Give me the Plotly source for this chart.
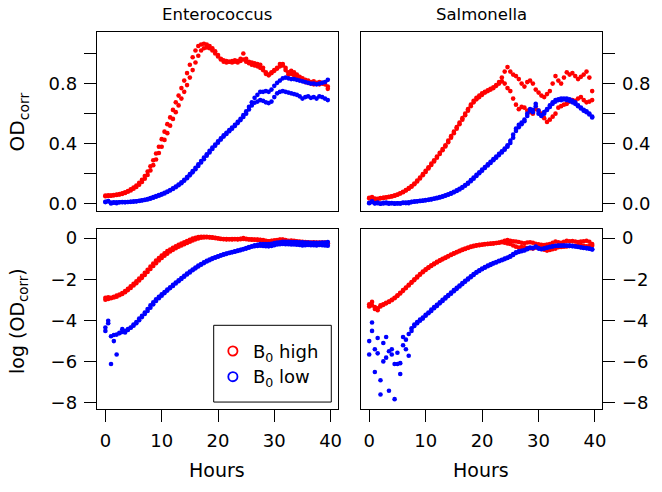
import numpy as np
import plotly.graph_objects as go

# ---- data (OD_corr, sampled every 0.5 h from 0 to 39.5 h) ----
hours = [i * 0.5 for i in range(80)]

ent_high_a = [0.055, 0.056, 0.054, 0.058, 0.061, 0.064, 0.069, 0.076, 0.085, 0.096,
              0.108, 0.122, 0.140, 0.160, 0.185, 0.215, 0.25, 0.29, 0.335, 0.38,
              0.43, 0.48, 0.53, 0.575, 0.625, 0.675, 0.72, 0.77, 0.82, 0.87,
              0.925, 0.975, 1.02, 1.05, 1.06, 1.065, 1.06, 1.05, 1.035, 1.015,
              0.99, 0.965, 0.955, 0.95, 0.945, 0.95, 0.955, 0.95, 0.965, 1.0,
              0.965, 0.945, 0.94, 0.935, 0.93, 0.925, 0.905, 0.875, 0.855, 0.87,
              0.885, 0.9, 0.915, 0.93, 0.905, 0.875, 0.885, 0.875, 0.86, 0.845,
              0.835, 0.825, 0.82, 0.81, 0.815, 0.805, 0.81, 0.805, 0.795, 0.765]
ent_high_b = [0.050, 0.052, 0.055, 0.056, 0.058, 0.062, 0.066, 0.072, 0.080, 0.089,
              0.100, 0.112, 0.127, 0.145, 0.167, 0.192, 0.222, 0.257, 0.295, 0.338,
              0.38, 0.425, 0.47, 0.52, 0.565, 0.61, 0.655, 0.70, 0.745, 0.79,
              0.84, 0.89, 0.94, 0.985, 1.02, 1.035, 1.04, 1.035, 1.02, 1.0,
              0.98, 0.96, 0.945, 0.94, 0.945, 0.94, 0.945, 0.94, 0.95, 0.96,
              0.945, 0.935, 0.925, 0.92, 0.915, 0.905, 0.89, 0.865, 0.86, 0.875,
              0.89, 0.905, 0.93, 0.92, 0.89, 0.86, 0.865, 0.855, 0.84, 0.83,
              0.82, 0.81, 0.805, 0.8, 0.795, 0.8, 0.795, 0.8, 0.805, 0.78]
ent_low_a = [0.013, 0.018, 0.0022, 0.009, 0.0035, 0.010, 0.012, 0.011, 0.012, 0.013,
             0.015, 0.017, 0.020, 0.023, 0.027, 0.032, 0.038, 0.044, 0.051, 0.058,
             0.065, 0.073, 0.082, 0.092, 0.103, 0.115, 0.128, 0.143, 0.16, 0.178,
             0.197, 0.217, 0.24, 0.262, 0.285, 0.307, 0.33, 0.352, 0.375, 0.395,
             0.415, 0.435, 0.455, 0.472, 0.49, 0.507, 0.525, 0.545, 0.565, 0.59,
             0.615, 0.645, 0.675, 0.705, 0.725, 0.745, 0.745, 0.75, 0.745, 0.76,
             0.785, 0.805, 0.82, 0.835, 0.84, 0.835, 0.83, 0.83, 0.825, 0.82,
             0.815, 0.81, 0.805, 0.80, 0.80, 0.795, 0.80, 0.805, 0.81, 0.825]
ent_low_b = [0.011, 0.016, 0.0085, 0.0067, 0.0092, 0.0098, 0.0105, 0.0102, 0.0115, 0.0128,
             0.0142, 0.016, 0.0185, 0.0215, 0.025, 0.029, 0.034, 0.040, 0.047, 0.054,
             0.061, 0.069, 0.078, 0.088, 0.098, 0.11, 0.123, 0.137, 0.153, 0.17,
             0.189, 0.209, 0.23, 0.252, 0.275, 0.297, 0.32, 0.342, 0.365, 0.386,
             0.406, 0.427, 0.447, 0.465, 0.483, 0.50, 0.518, 0.537, 0.557, 0.578,
             0.60, 0.628, 0.655, 0.672, 0.68, 0.69, 0.685, 0.675, 0.67, 0.68,
             0.71, 0.735, 0.745, 0.75, 0.745, 0.74, 0.735, 0.73, 0.725, 0.715,
             0.70, 0.71, 0.715, 0.705, 0.71, 0.70, 0.715, 0.71, 0.70, 0.69]
sal_high_a = [0.036, 0.045, 0.035, 0.030, 0.038, 0.040, 0.043, 0.046, 0.050, 0.055,
              0.062, 0.070, 0.080, 0.091, 0.104, 0.118, 0.135, 0.155, 0.175, 0.197,
              0.22, 0.243, 0.267, 0.29, 0.315, 0.34, 0.365, 0.39, 0.42, 0.45,
              0.48, 0.51, 0.54, 0.57, 0.60, 0.63, 0.66, 0.685, 0.705, 0.72,
              0.735, 0.745, 0.755, 0.765, 0.775, 0.79, 0.81, 0.84, 0.88, 0.91,
              0.88, 0.86, 0.85, 0.83, 0.80, 0.78, 0.81, 0.82, 0.80, 0.76,
              0.74, 0.72, 0.71, 0.73, 0.75, 0.80, 0.85, 0.82, 0.80, 0.84,
              0.875, 0.86, 0.87, 0.85, 0.83, 0.845, 0.86, 0.88, 0.84, 0.75]
sal_high_b = [0.040, 0.038, 0.032, 0.033, 0.036, 0.039, 0.042, 0.045, 0.049, 0.054,
              0.060, 0.068, 0.077, 0.088, 0.10, 0.114, 0.13, 0.148, 0.168, 0.19,
              0.212, 0.235, 0.258, 0.282, 0.306, 0.331, 0.356, 0.382, 0.41, 0.44,
              0.47, 0.50, 0.53, 0.56, 0.59, 0.62, 0.65, 0.675, 0.695, 0.71,
              0.725, 0.74, 0.75, 0.76, 0.77, 0.785, 0.80, 0.815, 0.80, 0.77,
              0.75, 0.70, 0.66, 0.63, 0.645, 0.64, 0.62, 0.61, 0.60, 0.63,
              0.62, 0.60, 0.57, 0.545, 0.56, 0.58, 0.60, 0.64, 0.65, 0.66,
              0.665, 0.68, 0.69, 0.685, 0.70, 0.71, 0.69, 0.675, 0.68, 0.69]
sal_low_a = [0.0035, 0.0166, 0.0045, 0.0037, 0.001, 0.0025, 0.003, 0.0006, 0.0035, 0.0022,
             0.0038, 0.00136, 0.0082, 0.0045, 0.0033, 0.011, 0.015, 0.017, 0.019, 0.021,
             0.024, 0.027, 0.031, 0.035, 0.039, 0.044, 0.050, 0.056, 0.063, 0.071,
             0.080, 0.089, 0.10, 0.112, 0.125, 0.14, 0.157, 0.175, 0.192, 0.21,
             0.228, 0.245, 0.262, 0.28, 0.297, 0.314, 0.332, 0.35, 0.368, 0.39,
             0.42, 0.46, 0.50, 0.525, 0.54, 0.56, 0.60, 0.63, 0.625, 0.665,
             0.62, 0.59, 0.61, 0.63, 0.655, 0.675, 0.69, 0.695, 0.70, 0.70,
             0.70, 0.695, 0.685, 0.675, 0.655, 0.64, 0.625, 0.615, 0.60, 0.58]
sal_low_b = [0.0067, 0.011, 0.0015, 0.0078, 0.0005, 0.0061, 0.0082, 0.0041, 0.0045, 0.0004,
             0.0022, 0.0023, 0.0055, 0.0072, 0.0095, 0.0125, 0.014, 0.016, 0.018, 0.020,
             0.023, 0.026, 0.029, 0.033, 0.037, 0.042, 0.047, 0.053, 0.06, 0.067,
             0.076, 0.085, 0.095, 0.107, 0.12, 0.134, 0.15, 0.167, 0.185, 0.203,
             0.22, 0.238, 0.255, 0.272, 0.29, 0.306, 0.324, 0.342, 0.36, 0.38,
             0.405, 0.44, 0.485, 0.51, 0.53, 0.55, 0.585, 0.62, 0.61, 0.65,
             0.60, 0.585, 0.60, 0.625, 0.645, 0.665, 0.68, 0.69, 0.69, 0.695,
             0.69, 0.685, 0.675, 0.665, 0.65, 0.635, 0.62, 0.61, 0.595, 0.575]

organisms = ["Enterococcus", "Salmonella"]
legend_labels = ["B<sub>0</sub> high", "B<sub>0</sub> low"]
od_label_ticks = [0.0, 0.4, 0.8]
od_label_text = ["0.0", "0.4", "0.8"]
od_tick_step = 0.2
log_ticks = [0, -2, -4, -6, -8]
hour_ticks = [0, 10, 20, 30, 40]

RED = "#FF0000"
BLUE = "#0000FF"
W, H = 662, 492
FONT = "DejaVu Sans"

series = {
    "Enterococcus": [(ent_high_a, RED), (ent_high_b, RED), (ent_low_a, BLUE), (ent_low_b, BLUE)],
    "Salmonella": [(sal_high_a, RED), (sal_high_b, RED), (sal_low_a, BLUE), (sal_low_b, BLUE)],
}

fig = go.Figure()
# axis ids: top row x/y, x2/y2 ; bottom row x3/y3, x4/y4
for col, org in enumerate(organisms):
    top_x, top_y = ("x", "y") if col == 0 else ("x2", "y2")
    bot_x, bot_y = ("x3", "y3") if col == 0 else ("x4", "y4")
    for vals, color in series[org]:
        v = np.array(vals)
        fig.add_trace(go.Scatter(x=hours, y=v, mode="markers", xaxis=top_x, yaxis=top_y,
                                 marker=dict(color=color, size=4.6, line=dict(width=0)),
                                 showlegend=False, hoverinfo="skip"))
        fig.add_trace(go.Scatter(x=hours, y=np.log(v), mode="markers", xaxis=bot_x, yaxis=bot_y,
                                 marker=dict(color=color, size=4.6, line=dict(width=0)),
                                 showlegend=False, hoverinfo="skip"))


def px(xp):
    return xp / W


def py(yp):
    return 1 - yp / H


xdom_l = [px(97.3), px(340.0)]
xdom_r = [px(362.7), px(606.0)]
ydom_t = [py(211.7), py(30.0)]
ydom_b = [py(412.3), py(230.0)]

common = dict(showline=True, linecolor="black", linewidth=1, mirror=True, showgrid=False,
              zeroline=False, ticks="outside", ticklen=12, tickwidth=1, tickcolor="black",
              tickfont=dict(size=18, color="black", family=FONT), ticklabelstandoff=3)
xrange_ = [-1.54, 41.3]
top_x_common = dict(common, ticks="", showticklabels=False, range=xrange_)
bot_x_common = dict(common, range=xrange_, tickmode="array", tickvals=hour_ticks)
top_y_common = dict(common, range=[-0.049, 1.146], tickmode="array", tickvals=od_label_ticks,
                    ticktext=od_label_text,
                    minor=dict(tick0=0, dtick=od_tick_step, ticks="outside", ticklen=12,
                               tickwidth=1, tickcolor="black", showgrid=False))
bot_y_common = dict(common, range=[-8.317, 0.432], tickmode="array", tickvals=log_ticks)

fig.update_layout(
    width=W, height=H, margin=dict(l=0, r=0, t=0, b=0),
    plot_bgcolor="white", paper_bgcolor="white", showlegend=False,
    font=dict(family=FONT, color="black"),
    xaxis=dict(top_x_common, domain=xdom_l, anchor="y"),
    yaxis=dict(top_y_common, domain=ydom_t, anchor="x", side="left"),
    xaxis2=dict(top_x_common, domain=xdom_r, anchor="y2"),
    yaxis2=dict(top_y_common, domain=ydom_t, anchor="x2", side="right"),
    xaxis3=dict(bot_x_common, domain=xdom_l, anchor="y3"),
    yaxis3=dict(bot_y_common, domain=ydom_b, anchor="x3", side="left"),
    xaxis4=dict(bot_x_common, domain=xdom_r, anchor="y4"),
    yaxis4=dict(bot_y_common, domain=ydom_b, anchor="x4", side="right"),
)


def label(text, xc, yc, size, angle=0, xanchor="center"):
    return dict(text=text, x=px(xc), y=py(yc), xref="paper", yref="paper",
                xanchor=xanchor, yanchor="middle", textangle=angle, showarrow=False,
                font=dict(size=size, family=FONT, color="black"))


ann = []
ann.append(label(organisms[0], 218.7, 13, 16.5))
ann.append(label(organisms[1], 484.3, 13, 16.5))
for xc in (218.7, 484.3):
    ann.append(label("Hours", xc, 474, 19))
ann.append(label("OD<sub>corr</sub>", 18, 121, 20, angle=-90))
ann.append(label("log (OD<sub>corr</sub>)", 18, 323, 19, angle=-90))
for lab, yc in zip(legend_labels, (355.0, 381.0)):
    ann.append(label(lab, 252.5, yc, 18, xanchor="left"))
fig.update_layout(annotations=ann)

shapes = [dict(type="rect", xref="paper", yref="paper", x0=px(215), x1=px(333.3),
               y0=py(405), y1=py(327.3), line=dict(color="black", width=1),
               fillcolor="white", layer="above")]
for color, yc in zip((RED, BLUE), (353.3, 379.3)):
    shapes.append(dict(type="circle", xref="paper", yref="paper", xsizemode="pixel",
                       ysizemode="pixel", xanchor=px(234.3), yanchor=py(yc),
                       x0=-4.6, x1=4.6, y0=-4.6, y1=4.6, line=dict(color=color, width=1.8),
                       layer="above"))
fig.update_layout(shapes=shapes)

fig.write_html("out.html")
